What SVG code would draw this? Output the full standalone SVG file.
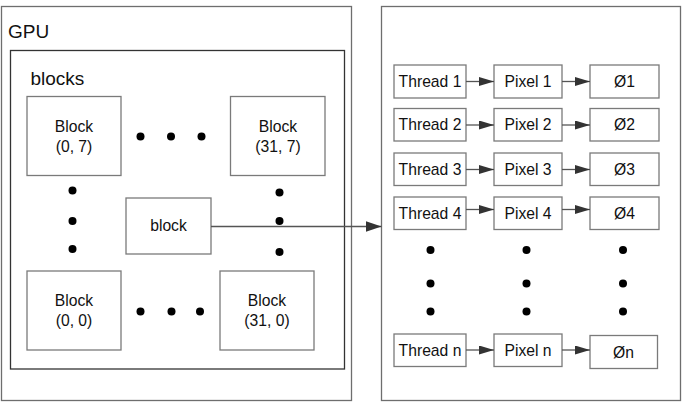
<svg xmlns="http://www.w3.org/2000/svg" width="682" height="402" viewBox="0 0 682 402">
<style>
text{font-family:"Liberation Sans",Arial,sans-serif;fill:#111;text-anchor:middle}
.box{fill:#fff;stroke:#7a7a7a;stroke-width:1.3}
.frame{fill:#fff;stroke:#6e6e6e;stroke-width:1.3}
.inner{fill:none;stroke:#333;stroke-width:1.3}
.t{font-size:15.7px}
.dot{fill:#000}
.conn{stroke:#555;stroke-width:1.3;fill:none}
</style>
<defs>
<marker id="ah" viewBox="0 0 15 9" refX="15" refY="4.5" markerWidth="15" markerHeight="9" markerUnits="userSpaceOnUse" orient="auto">
<path d="M0,0 L15,4.5 L0,9 Z" fill="#333"/>
</marker>
<marker id="ahL" viewBox="0 0 16 11" refX="16" refY="5.5" markerWidth="16" markerHeight="11" markerUnits="userSpaceOnUse" orient="auto">
<path d="M0,0 L16,5.5 L0,11 Z" fill="#333"/>
</marker>
</defs>
<g id="gpu">
<rect class="frame" x="1.5" y="6.5" width="350" height="394"/>
<text x="8" y="38" style="font-size:19px;text-anchor:start">GPU</text>
</g>
<g id="blocks">
<rect class="inner" x="10.5" y="50.5" width="334" height="318.5"/>
<text x="30.5" y="85" style="font-size:19px;text-anchor:start">blocks</text>
</g>
<g id="block-0-7">
<rect class="box" x="27" y="96.5" width="94" height="79"/>
<text class="t" x="74" y="131.5">Block</text>
<text class="t" x="74" y="151.5">(0, 7)</text>
</g>
<g id="block-31-7">
<rect class="box" x="230.5" y="96.5" width="94.5" height="79"/>
<text class="t" x="278" y="131.5">Block</text>
<text class="t" x="278" y="151.5">(31, 7)</text>
</g>
<g id="block">
<rect class="box" x="126" y="198" width="85" height="56"/>
<text class="t" x="168.5" y="231">block</text>
</g>
<g id="block-0-0">
<rect class="box" x="27" y="271" width="94" height="79"/>
<text class="t" x="74" y="306">Block</text>
<text class="t" x="74" y="326">(0, 0)</text>
</g>
<g id="block-31-0">
<rect class="box" x="220" y="271" width="94" height="79"/>
<text class="t" x="267" y="306">Block</text>
<text class="t" x="267" y="326">(31, 0)</text>
</g>
<g id="gpu-dots">
<circle class="dot" cx="140.5" cy="136.5" r="4"/>
<circle class="dot" cx="171" cy="136.5" r="4"/>
<circle class="dot" cx="201.5" cy="136.5" r="4"/>
<circle class="dot" cx="72.5" cy="190.5" r="4"/>
<circle class="dot" cx="72.5" cy="221" r="4"/>
<circle class="dot" cx="72.5" cy="249" r="4"/>
<circle class="dot" cx="279.5" cy="192.5" r="4"/>
<circle class="dot" cx="279.5" cy="221" r="4"/>
<circle class="dot" cx="279.5" cy="252" r="4"/>
<circle class="dot" cx="140.5" cy="311.5" r="4"/>
<circle class="dot" cx="171.5" cy="311.5" r="4"/>
<circle class="dot" cx="200" cy="311.5" r="4"/>
</g>
<g id="threads-panel">
<rect class="frame" x="381.5" y="6.5" width="299" height="394"/>
</g>
<g id="thread-1"><rect class="box" x="394" y="65" width="72" height="33"/><text class="t" x="430" y="86.7">Thread 1</text></g>
<g id="pixel-1"><rect class="box" x="494" y="65" width="68" height="33"/><text class="t" x="528" y="86.7">Pixel 1</text></g>
<g id="out-1"><rect class="box" x="590" y="65" width="69" height="33"/><text class="t" x="624.5" y="86.7">Ø1</text></g>
<g id="thread-2"><rect class="box" x="394" y="108.5" width="72" height="32.5"/><text class="t" x="430" y="130">Thread 2</text></g>
<g id="pixel-2"><rect class="box" x="494" y="108.5" width="68" height="32.5"/><text class="t" x="528" y="130">Pixel 2</text></g>
<g id="out-2"><rect class="box" x="590" y="108.5" width="69" height="32.5"/><text class="t" x="624.5" y="130">Ø2</text></g>
<g id="thread-3"><rect class="box" x="394" y="153" width="72" height="32.5"/><text class="t" x="430" y="174.5">Thread 3</text></g>
<g id="pixel-3"><rect class="box" x="494" y="153" width="68" height="32.5"/><text class="t" x="528" y="174.5">Pixel 3</text></g>
<g id="out-3"><rect class="box" x="590" y="153" width="69" height="32.5"/><text class="t" x="624.5" y="174.5">Ø3</text></g>
<g id="thread-4"><rect class="box" x="394" y="197" width="72" height="32.5"/><text class="t" x="430" y="218.5">Thread 4</text></g>
<g id="pixel-4"><rect class="box" x="494" y="197" width="68" height="32.5"/><text class="t" x="528" y="218.5">Pixel 4</text></g>
<g id="out-4"><rect class="box" x="590" y="197" width="69" height="32.5"/><text class="t" x="624.5" y="218.5">Ø4</text></g>
<g id="thread-n"><rect class="box" x="394" y="334" width="72" height="32.5"/><text class="t" x="430" y="355.5">Thread n</text></g>
<g id="pixel-n"><rect class="box" x="494" y="334" width="68" height="32.5"/><text class="t" x="528" y="355.5">Pixel n</text></g>
<g id="out-n"><rect class="box" x="590" y="335.5" width="67.5" height="33"/><text class="t" x="623.5" y="357.5">Øn</text></g>
<g id="thread-dots">
<circle class="dot" cx="430.5" cy="250" r="4"/>
<circle class="dot" cx="430.5" cy="283.5" r="4"/>
<circle class="dot" cx="430.5" cy="311.5" r="4"/>
<circle class="dot" cx="526.5" cy="250" r="4"/>
<circle class="dot" cx="526.5" cy="283.5" r="4"/>
<circle class="dot" cx="526.5" cy="311.5" r="4"/>
<circle class="dot" cx="623" cy="250" r="4"/>
<circle class="dot" cx="623" cy="283.5" r="4"/>
<circle class="dot" cx="623" cy="311.5" r="4"/>
</g>
<g id="connectors">
<path class="conn" d="M211,226.5 H381.5" marker-end="url(#ahL)"/>
<path class="conn" d="M466,81.5 H494" marker-end="url(#ah)"/>
<path class="conn" d="M562,81.5 H590" marker-end="url(#ah)"/>
<path class="conn" d="M466,125 H494" marker-end="url(#ah)"/>
<path class="conn" d="M562,125 H590" marker-end="url(#ah)"/>
<path class="conn" d="M466,169.5 H494" marker-end="url(#ah)"/>
<path class="conn" d="M562,169.5 H590" marker-end="url(#ah)"/>
<path class="conn" d="M466,209.5 H494" marker-end="url(#ah)"/>
<path class="conn" d="M562,209.5 H590" marker-end="url(#ah)"/>
<path class="conn" d="M466,350 H494" marker-end="url(#ah)"/>
<path class="conn" d="M562,350 H590" marker-end="url(#ah)"/>
</g>
</svg>
